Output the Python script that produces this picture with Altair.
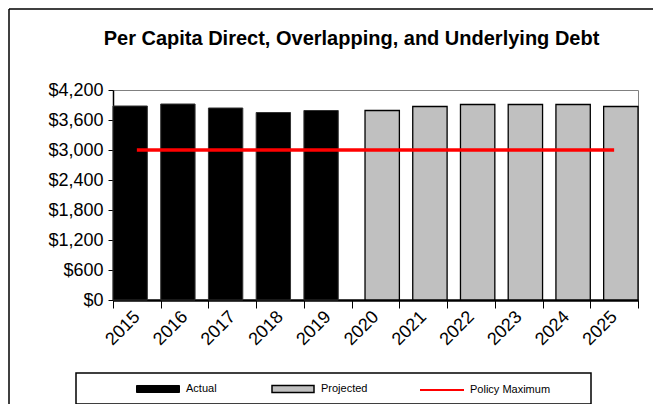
import altair as alt
import pandas as pd

years = ["2015", "2016", "2017", "2018", "2019", "2020", "2021", "2022", "2023", "2024", "2025"]
actual_years = ["2015", "2016", "2017", "2018", "2019"]
actual_values = [3880, 3920, 3840, 3750, 3790]
projected_years = ["2020", "2021", "2022", "2023", "2024", "2025"]
projected_values = [3790, 3870, 3910, 3910, 3910, 3870]
policy_max = [3000] * 11
y_ticks = [0, 600, 1200, 1800, 2400, 3000, 3600, 4200]
title_text = "Per Capita Direct, Overlapping,  and Underlying  Debt"

W, H = 525, 210
FONT = "Liberation Sans"
NARROW = "Liberation Sans Narrow, Liberation Sans"

df_act = pd.DataFrame({"year": actual_years, "value": actual_values, "series": "Actual"})
df_proj = pd.DataFrame({"year": projected_years, "value": projected_values, "series": "Projected"})
df_pol = pd.DataFrame({"year": years, "value": policy_max, "series": "Policy Maximum"})
df_one = pd.DataFrame({"k": [0]})
df_title = pd.DataFrame({"t": [title_text]})

x_scale = alt.Scale(domain=years, paddingInner=0, paddingOuter=0)
y_scale = alt.Scale(domain=[0, 4200], nice=False)

x_enc = alt.X("year:N", scale=x_scale, sort=years,
              axis=alt.Axis(title=None, labelAngle=-45, labelAlign="right", labelBaseline="middle",
                            tickBand="extent", tickSize=8, tickWidth=1, tickColor="black",
                            domainColor="black", domainWidth=2.5, labelFont=FONT, labelFontSize=18,
                            labelColor="black", labelPadding=6))
y_enc = alt.Y("value:Q", scale=y_scale,
              axis=alt.Axis(title=None, values=y_ticks, format="$,.0f", grid=False,
                            tickSize=5, tickWidth=1, tickColor="black", domainColor="black",
                            domainWidth=1.5, labelFont=FONT, labelFontSize=18, labelColor="black",
                            labelPadding=5))

rect_path = "M-1,-0.163L1,-0.163L1,0.163L-1,0.163Z"

actual = alt.Chart(df_act).mark_bar(width=alt.RelativeBandSize(0.72), xOffset=-6.7,
                                    stroke="#333333", strokeWidth=1).encode(
    x=x_enc, y=y_enc,
    fill=alt.Fill("series:N", scale=alt.Scale(domain=["Actual"], range=["black"]),
                  legend=alt.Legend(orient="none", legendX=23, legendY=277, title=None,
                                    symbolType=rect_path, symbolSize=1849,
                                    symbolStrokeColor="black", symbolStrokeWidth=1,
                                    labelFont=NARROW, labelFontSize=11, labelColor="black",
                                    labelOffset=6, padding=0)))

projected = alt.Chart(df_proj).mark_bar(width=alt.RelativeBandSize(0.72), xOffset=6.7,
                                        stroke="black", strokeWidth=1.3).encode(
    x=x_enc, y=y_enc,
    fill=alt.Fill("series:N", scale=alt.Scale(domain=["Projected"], range=["#C0C0C0"]),
                  legend=alt.Legend(orient="none", legendX=158, legendY=277, title=None,
                                    symbolType=rect_path, symbolSize=1764,
                                    symbolStrokeColor="black", symbolStrokeWidth=1.5,
                                    labelFont=NARROW, labelFontSize=11, labelColor="black",
                                    labelOffset=6, padding=0)))

policy = alt.Chart(df_pol).mark_line(strokeWidth=3.5).encode(
    x=x_enc, y=y_enc,
    stroke=alt.Stroke("series:N", scale=alt.Scale(domain=["Policy Maximum"], range=["#FF0000"]),
                      legend=alt.Legend(orient="none", legendX=306, legendY=277, title=None,
                                        symbolType="stroke", symbolSize=1936,
                                        symbolStrokeWidth=2,
                                        labelFont=NARROW, labelFontSize=11, labelColor="black",
                                        labelOffset=5, padding=0)))

legend_box = alt.Chart(df_one).mark_rect(fill="white", stroke="black", strokeWidth=1.5).encode(
    x=alt.value(-37), x2=alt.value(478), y=alt.value(283), y2=alt.value(314))

border_left = alt.Chart(df_one).mark_rule(color="black", strokeWidth=1.5).encode(
    x=alt.value(-104), y=alt.value(-81), y2=alt.value(320))
border_top = alt.Chart(df_one).mark_rule(color="black", strokeWidth=1.5).encode(
    x=alt.value(-104), x2=alt.value(545), y=alt.value(-81))

title = alt.Chart(df_title).mark_text(font=FONT, fontSize=20, fontWeight="bold", color="black",
                                      align="center", baseline="alphabetic").encode(
    text="t:N", x=alt.value(238.5), y=alt.value(-45))

chart = alt.layer(border_left, border_top, legend_box, title, actual, projected, policy).resolve_scale(
    fill="independent", stroke="independent"
).properties(
    width=W, height=H,
    autosize=alt.AutoSizeParams(type="none"),
    padding={"left": 105, "top": 82, "right": 15, "bottom": 104},
    background="white",
).configure_view(stroke="#808080", strokeWidth=1)

chart.save("out.html", embed_options={"renderer": "svg", "actions": False})
